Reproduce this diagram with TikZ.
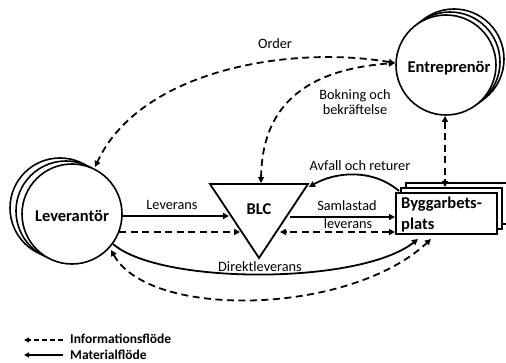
\documentclass[tikz,border=0pt]{standalone}
\usepackage{fontspec}
\setmainfont{Carlito}
\usetikzlibrary{arrows.meta}
\begin{document}
\begin{tikzpicture}[x=1pt,y=-1pt,
  ent/.style={circle,draw,line width=1.6pt,fill=white,minimum size=100pt,inner sep=0pt},
  boxst/.style={draw,line width=1.7pt,fill=white,minimum width=101pt,minimum height=41pt,inner sep=0pt},
  lbl/.style={font=\fontsize{14.3}{15.5}\selectfont,inner sep=1pt},
  nlbl/.style={font=\bfseries\fontsize{16.5}{19}\selectfont,inner sep=0pt},
  mat/.style={line width=1.8pt,-{Triangle[length=6pt,width=6pt]}},
  info/.style={line width=1.8pt,dash pattern=on 7pt off 4.5pt,-{Triangle[length=6pt,width=6pt]}},
  infob/.style={line width=1.8pt,dash pattern=on 7pt off 4.5pt,{Triangle[length=6pt,width=6pt]}-{Triangle[length=6pt,width=6pt]}}
]
\useasboundingbox (0,0) rectangle (506,363);
% Leverantor
\node[ent] (lev3) at (60,208) {};
\node[ent] (lev2) at (66,211) {};
\node[ent] (lev) at (72,214) {};
\node[nlbl] (levt) at (72,216) {Leverantör};
% Entreprenor
\node[ent] (ent3) at (454,59) {};
\node[ent] (ent2) at (450,62) {};
\node[ent] (ent) at (446,65) {};
\node[nlbl] (entt) at (449,68) {Entreprenör};
% Byggarbetsplats
\node[boxst,anchor=north west] (byg3) at (405,182) {};
\node[boxst,anchor=north west] (byg2) at (400,187) {};
\node[boxst,anchor=north west] (byg) at (395,192) {};
\node[nlbl,align=left,anchor=north west,font=\bfseries\fontsize{16.5}{21}\selectfont] (bygt) at (401,197) {Byggarbets-\\plats};
% BLC triangle
\coordinate (t1) at (210,184);
\coordinate (t2) at (308,184);
\coordinate (t3) at (259,258);
\draw[line width=1.8pt,line join=miter] (t1) -- (t2) -- (t3) -- cycle;
\node[nlbl] (blc) at (259,209) {BLC};
% anchor coordinates
\coordinate (blcL1) at (229,216);
\coordinate (blcL2) at (240,232);
\coordinate (blcR1) at (290,217);
\coordinate (blcR2) at (280,232);
\coordinate (blcTR) at (309,187);
\coordinate (blcT) at (261,183);
\coordinate (levE1) at (122,216);
\coordinate (levE2) at (119,232);
\coordinate (levSE1) at (113,244);
\coordinate (levSE2) at (111,250);
\coordinate (levN) at (95,167);
\coordinate (bygW1) at (395,217);
\coordinate (bygW2) at (395,232);
\coordinate (bygNW) at (399,191);
\coordinate (bygS1) at (418,239);
\coordinate (bygS2) at (431,239);
\coordinate (bygN) at (445,187);
\coordinate (entW) at (395,63);
\coordinate (entS) at (445,116);
% connectors
\draw[mat] (levE1) -- (blcL1);
\node[lbl] (l1) at (172,205) {Leverans};
\draw[info] (levE2) -- (blcL2);
\draw[mat] (blcR1) -- (bygW1);
\node[lbl] (l2) at (347,206) {Samlastad};
\node[lbl] (l3) at (348,224) {leverans};
\draw[infob] (bygW2) -- (blcR2);
\draw[mat] (bygNW) .. controls (372,168) and (335,172) .. (blcTR);
\node[lbl] (l4) at (360,166) {Avfall och returer};
\draw[mat] (levSE1) .. controls (160,285) and (360,285) .. (bygS1);
\node[lbl] (l5) at (260,267) {Direktleverans};
\draw[infob] (levSE2) .. controls (150,320) and (350,315) .. (bygS2);
\draw[infob] (entW) .. controls (290,45) and (140,70) .. (levN);
\node[lbl] (l6) at (275,44) {Order};
\draw[infob] (blcT) .. controls (262,110) and (300,70) .. (entW);
\node[lbl,align=center] (l7) at (355,102) {Bokning och\\bekräftelse};
\draw[infob] (entS) -- (bygN);
% legend
\coordinate (lg1a) at (63,340);
\coordinate (lg1b) at (24,340);
\coordinate (lg2a) at (63,355);
\coordinate (lg2b) at (24,355);
\draw[line width=1.6pt,dash pattern=on 5pt off 3pt,-{Triangle[length=5pt,width=5pt]}] (lg1a) -- (lg1b);
\draw[line width=1.6pt,-{Triangle[length=5pt,width=5pt]}] (lg2a) -- (lg2b);
\node[anchor=west,font=\bfseries\fontsize{13.5}{15}\selectfont,inner sep=0pt] (lgt1) at (70,339) {Informationsflöde};
\node[anchor=west,font=\bfseries\fontsize{13.5}{15}\selectfont,inner sep=0pt] (lgt2) at (70,355) {Materialflöde};
\end{tikzpicture}
\end{document}
